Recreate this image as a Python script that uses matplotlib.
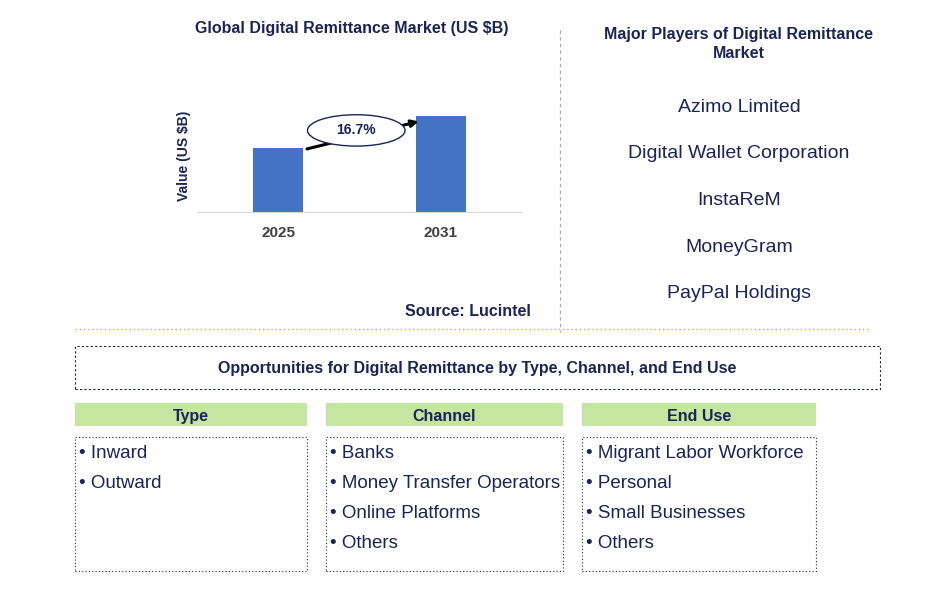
import matplotlib.pyplot as plt
from matplotlib.patches import Rectangle, Ellipse

plt.rcParams["font.family"] = "Liberation Sans"

years = ["2025", "2031"]
values = [2.0, 3.0]
cagr = "16.7%"
players = ["Azimo Limited", "Digital Wallet Corporation", "InstaReM", "MoneyGram", "PayPal Holdings"]
seg_titles = ["Type", "Channel", "End Use"]
seg_items = [
    ["Inward", "Outward"],
    ["Banks", "Money Transfer Operators", "Online Platforms", "Others"],
    ["Migrant Labor Workforce", "Personal", "Small Businesses", "Others"],
]

W, H = 945, 592
navy = "#1a2456"
fig = plt.figure(figsize=(W / 100, H / 100), dpi=100)


def fx(x):
    return x / W


def fy(y):
    return 1 - (y + 2) / H


def box(x0, y0, x1, y1, **kw):
    fig.add_artist(Rectangle((fx(x0), 1 - y1 / H), fx(x1 - x0), (y1 - y0) / H,
                             transform=fig.transFigure, **kw))


# bar chart
ax = fig.add_axes([fx(197), 1 - 212 / H, fx(522 - 197), (212 - 100) / H])
ax.bar([0, 1], values, width=0.31, color="#4472c4")
ax.set_xlim(-0.5, 1.5)
ax.set_ylim(0, 3.5)
ax.set_xticks([0, 1], years, fontsize=11, fontweight="bold", color="#404040")
ax.set_yticks([])
for s in ["top", "right", "left"]:
    ax.spines[s].set_visible(False)
ax.spines["bottom"].set_color("#d9d9d9")
ax.tick_params(axis="x", length=0, pad=10)
ax.set_ylabel("Value (US $B)", fontsize=10, fontweight="bold", color=navy)
ax.annotate("", xy=(0.88, 2.85), xytext=(0.16, 1.95),
            arrowprops=dict(arrowstyle="-|>", color="black", lw=2.2), zorder=3)
ax.add_patch(Ellipse((0.48, 2.55), 0.6, 0.98, facecolor="white", edgecolor=navy, lw=1, zorder=5))
ax.text(0.48, 2.55, cagr, ha="center", va="center", fontsize=10, fontweight="bold",
        color=navy, zorder=6)

fig.text(fx(352), fy(26), "Global Digital Remittance Market (US $B)", ha="center", va="center",
         fontsize=11.5, fontweight="bold", color=navy)
fig.text(fx(468), fy(309), "Source: Lucintel", ha="center", va="center",
         fontsize=11.5, fontweight="bold", color=navy)

# players
fig.text(fx(739), fy(42), "Major Players of Digital Remittance\nMarket", ha="center", va="center",
         fontsize=11.5, fontweight="bold", color=navy, linespacing=1.25)
for i, p in enumerate(players):
    fig.text(fx(739), fy(105 + i * 46.7), p, ha="center", va="center", fontsize=14, color=navy)

fig.add_artist(plt.Line2D([fx(560), fx(560)], [fy(28), fy(330)], transform=fig.transFigure,
                          color="#a6a6a6", lw=0.8, ls=(0, (3, 3))))
fig.add_artist(plt.Line2D([fx(75), fx(870)], [1 - 329 / H, 1 - 329 / H], transform=fig.transFigure,
                          color="#f0b400", lw=1, ls=(0, (1, 2))))

box(75, 346, 880, 389, fill=False, edgecolor=navy, lw=0.8, ls=(0, (2, 2)))
fig.text(fx(477), fy(367), "Opportunities for Digital Remittance by Type, Channel, and End Use",
         ha="center", va="center", fontsize=11.5, fontweight="bold", color=navy)

cols = [(75, 307), (326, 563), (582, 816)]
for (x0, x1), t, items in zip(cols, seg_titles, seg_items):
    box(x0, 403, x1, 426, facecolor="#c5e6a0", edgecolor="none")
    fig.text(fx((x0 + x1) / 2), fy(414.5), t, ha="center", va="center",
             fontsize=11.5, fontweight="bold", color=navy)
    box(x0, 437, x1, 571, fill=False, edgecolor=navy, lw=0.8, ls=(0, (1, 2)))
    for j, it in enumerate(items):
        fig.text(fx(x0 + 4), fy(451 + j * 30), "\u2022 " + it, ha="left", va="center",
                 fontsize=13.5, color=navy)

fig.savefig("out.png", dpi=100)
